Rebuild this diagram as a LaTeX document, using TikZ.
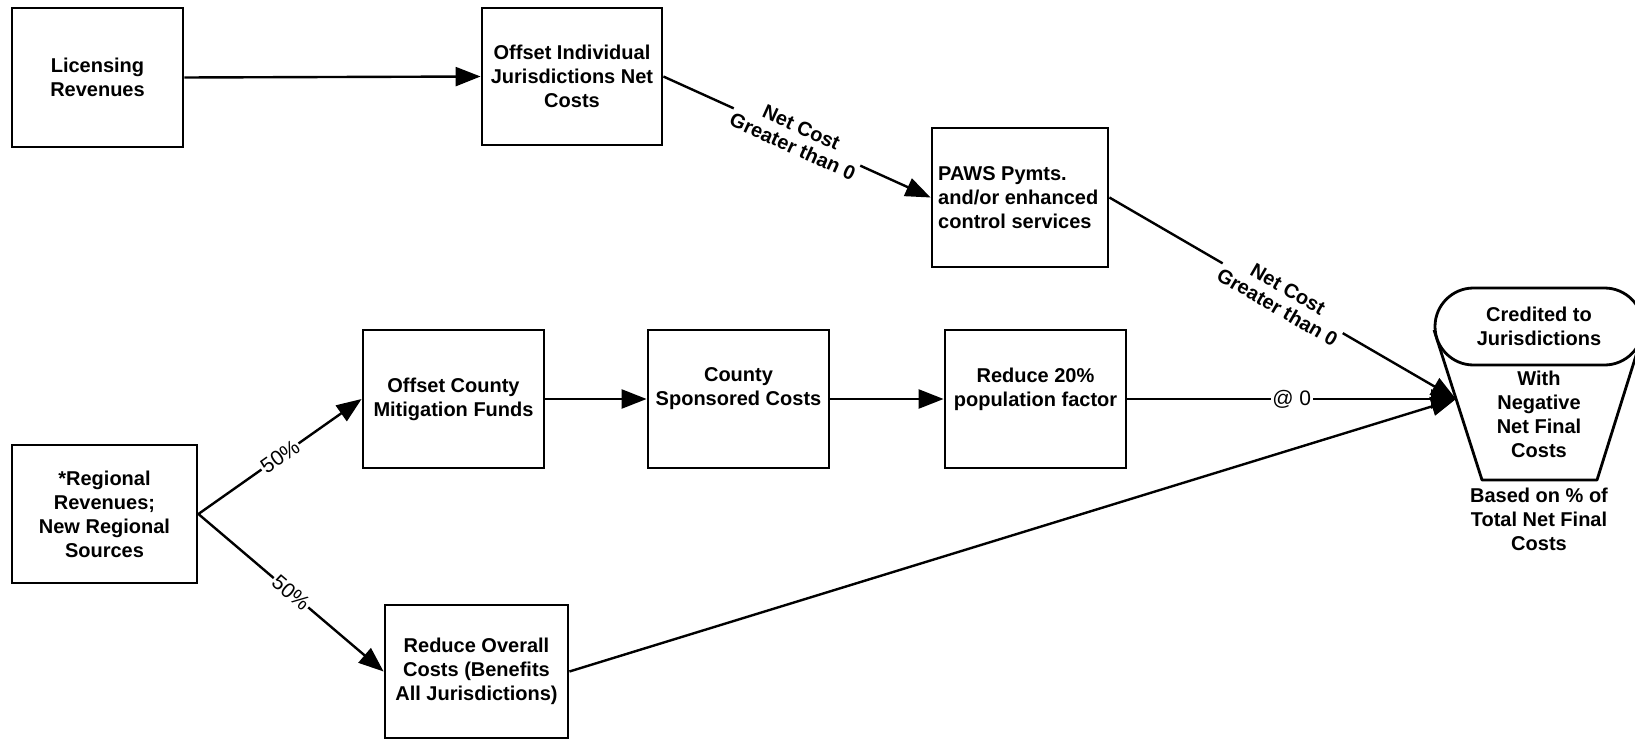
\documentclass[tikz,border=0pt]{standalone}
\usepackage{fontspec}
\setmainfont{Liberation Sans}
\usetikzlibrary{arrows.meta,shapes.misc}
\begin{document}
\begin{tikzpicture}[x=1pt,y=-1pt,
  box/.style={draw, line width=2.8pt, inner sep=0pt, align=center,
    font=\bfseries\fontsize{20}{24}\selectfont, minimum width=181pt, minimum height=138pt},
  conn/.style={line width=2.4pt, -{Triangle[length=25pt,width=19pt]}},
  lbl/.style={font=\fontsize{21}{22}\selectfont, fill=white, inner sep=1.5pt, align=center, sloped},
  costlbl/.style={lbl, font=\bfseries\fontsize{20}{21}\selectfont},
  boldtxt/.style={align=center, inner sep=0pt, font=\bfseries\fontsize{20}{24}\selectfont}]
\useasboundingbox (0,0) rectangle (1635,741);
\fill[white] (0,0) rectangle (1635,741);

% top row
\node[box, minimum width=171pt, minimum height=139pt] (lic) at (97.5,77.5) {Licensing\\Revenues};
\node[box, minimum width=180pt, minimum height=137pt] (offind) at (572,76.5) {Offset Individual\\Jurisdictions Net\\Costs};
\node[box, minimum width=176pt, minimum height=139pt] (paws) at (1020,197.5) {};
\node[boldtxt, align=left, anchor=west] (pawstxt) at (938,197.5) {PAWS Pymts.\\and/or enhanced\\control services};

% middle row
\node[box] (offcty) at (453.5,399) {Offset County\\Mitigation Funds};
\node[box] (ctysp) at (738.5,399) {County\\Sponsored Costs\\~};
\node[box] (red20) at (1035.5,399) {Reduce 20\%\\population factor\\~};

% left and bottom
\node[box, minimum width=185pt] (reg) at (104.5,514) {*Regional\\Revenues;\\New Regional\\Sources};
\node[box, minimum width=183pt, minimum height=133pt] (redall) at (476.5,671.5) {Reduce Overall\\Costs (Benefits\\All Jurisdictions)};

% credited shape
\draw[line width=2.8pt, line join=round] (1434,330) -- (1482,480) -- (1597,480) -- (1644,330);
\node[rounded rectangle, draw, fill=white, line width=2.8pt, inner sep=0pt,
  minimum width=208pt, minimum height=77pt, align=center,
  font=\bfseries\fontsize{20}{24}\selectfont] (cred) at (1539,326.5) {Credited to\\Jurisdictions};
\node[boldtxt] (credneg) at (1539,414) {With\\Negative\\Net Final\\Costs};
\node[boldtxt] (credbase) at (1539,519) {Based on \% of\\Total Net Final\\Costs};
\coordinate (tip) at (1456,399);

% connectors
\draw[conn] (lic.east) -- (offind.west);
\draw[conn] (offind.east) -- node[costlbl] {Net Cost\\Greater than 0} (paws.west);
\draw[conn] (paws.east) -- node[costlbl] {Net Cost\\Greater than 0} (tip);
\draw[conn] (offcty.east) -- (ctysp.west);
\draw[conn] (ctysp.east) -- (red20.west);
\draw[conn] (red20.east) -- node[lbl] {@ 0} (red20.east -| tip);
\draw[conn] (redall.east) -- (tip);
\draw[conn] (reg.east) -- node[lbl] {50\%} (offcty.west);
\draw[conn] (reg.east) -- node[lbl] {50\%} (redall.west);
\end{tikzpicture}
\end{document}
